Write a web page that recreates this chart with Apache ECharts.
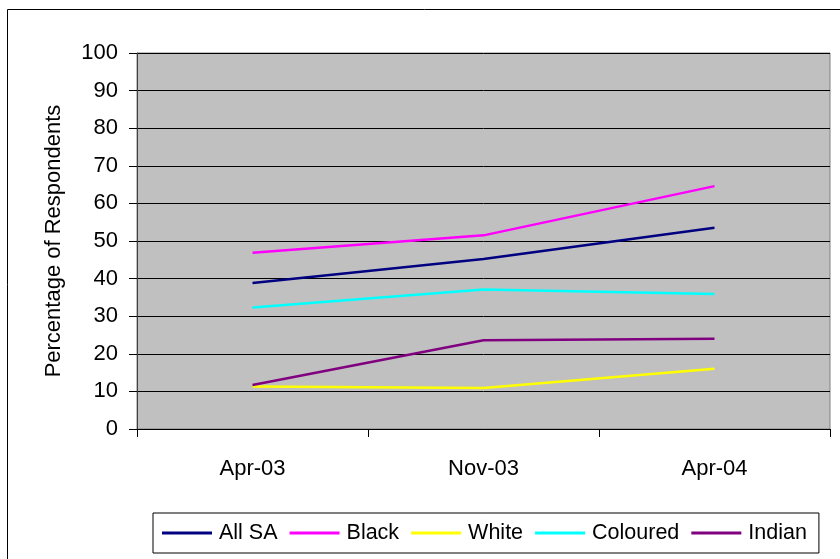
<!DOCTYPE html>
<html><head><meta charset="utf-8">
<script src="https://cdn.jsdelivr.net/npm/echarts@6/dist/echarts.min.js"></script>
<style>html,body{margin:0;padding:0;background:#fff}#c{width:840px;height:559px}</style>
</head><body><div id="c"></div>
<script>
const categories = ['Apr-03', 'Nov-03', 'Apr-04'];
const allSA    = [38.8, 45.2, 53.5];
const black    = [46.9, 51.5, 64.6];
const white    = [11.3, 10.9, 16.0];
const coloured = [32.3, 37.1, 35.9];
const indian   = [11.7, 23.6, 24.0];
const yTicks = [0, 10, 20, 30, 40, 50, 60, 70, 80, 90, 100];

const FONT = '"Liberation Sans Narrow", "Arial Narrow", "Liberation Sans", Arial, sans-serif';
const chart = echarts.init(document.getElementById('c'), null, {renderer: 'canvas'});
const mk = (name, data, color) => ({
  name, type: 'line', data, symbol: 'none', smooth: false,
  lineStyle: {color, width: 2.5}, itemStyle: {color}, z: 5
});
chart.setOption({
  animation: false,
  textStyle: {fontFamily: FONT},
  graphic: [{
    type: 'rect', shape: {x: 7.5, y: 9.5, width: 840, height: 560},
    style: {fill: 'none', stroke: '#000', lineWidth: 1}, z: -10
  }],
  grid: {left: 137, top: 53, right: 10, bottom: 130, show: true,
         backgroundColor: '#c0c0c0', borderColor: '#808080', borderWidth: 1},
  legend: {
    left: 153, top: 513, padding: [9, 12, 9, 9],
    borderColor: '#000', borderWidth: 1,
    itemWidth: 50, itemHeight: 3, itemGap: 12, icon: 'rect',
    textStyle: {fontFamily: FONT, fontSize: 21.5, color: '#000', padding: [0, 0, 0, 2]},
    data: ['All SA', 'Black', 'White', 'Coloured', 'Indian']
  },
  xAxis: {
    type: 'category', data: categories, boundaryGap: true,
    axisLine: {lineStyle: {color: '#000', width: 1}},
    axisTick: {show: true, length: 8, lineStyle: {color: '#000'}},
    axisLabel: {fontFamily: FONT, fontSize: 22, color: '#000', margin: 29}
  },
  yAxis: {
    type: 'value', min: 0, max: 100, interval: 10,
    name: 'Percentage of Respondents', nameLocation: 'middle', nameGap: 72,
    nameTextStyle: {fontFamily: FONT, fontSize: 22, color: '#000'},
    axisLine: {show: true, lineStyle: {color: '#404040', width: 1}},
    axisTick: {show: true, length: 8, lineStyle: {color: '#000'}},
    axisLabel: {fontFamily: FONT, fontSize: 22, color: '#000', margin: 19,
                formatter: v => yTicks.includes(v) ? String(v) : ''},
    splitLine: {show: true, lineStyle: {color: '#000', width: 1}}
  },
  series: [
    mk('All SA', allSA, '#000080'),
    mk('Black', black, '#ff00ff'),
    mk('White', white, '#ffff00'),
    mk('Coloured', coloured, '#00ffff'),
    mk('Indian', indian, '#800080')
  ]
});
</script></body></html>
